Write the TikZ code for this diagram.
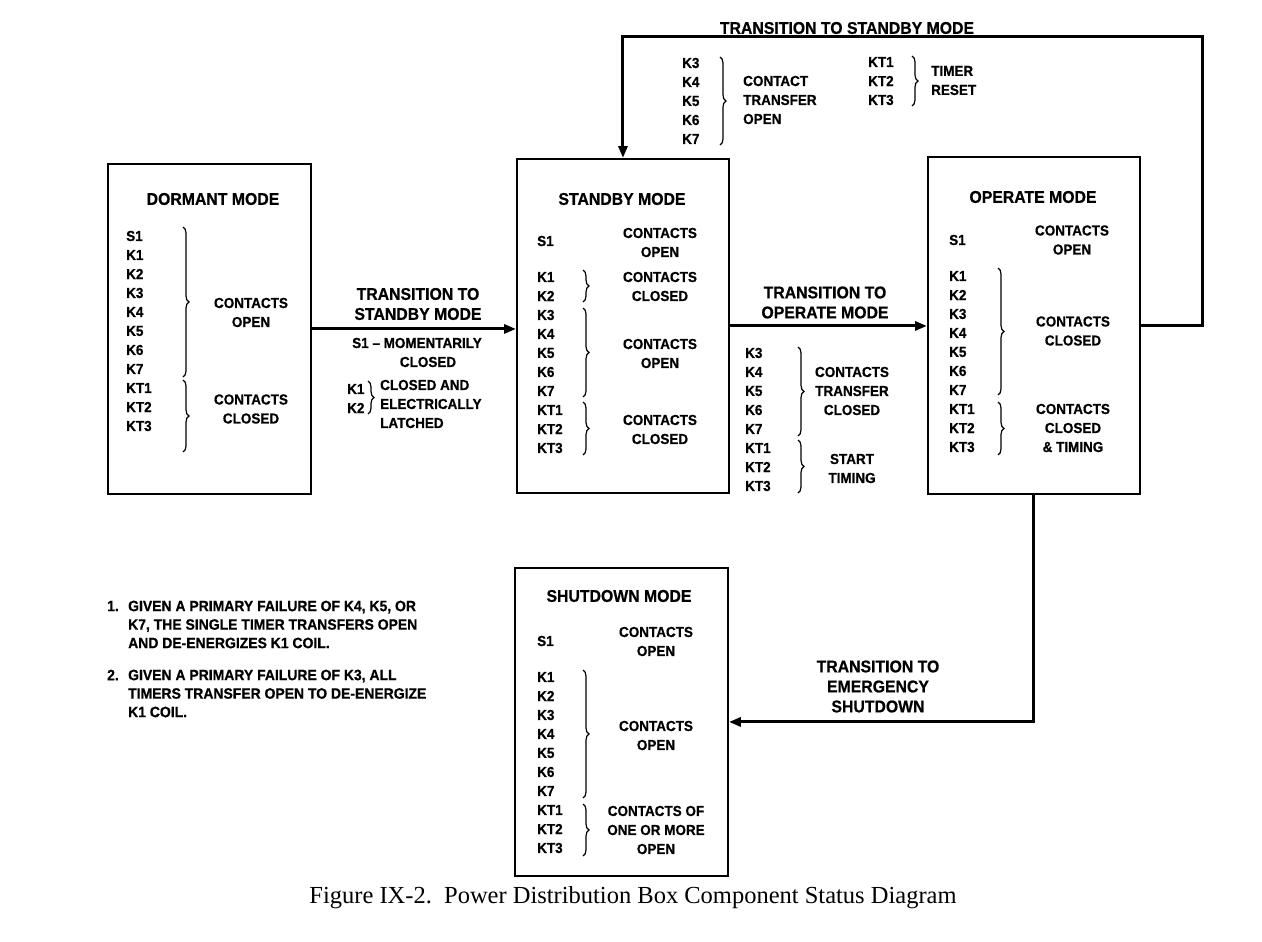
\documentclass[tikz,border=0pt]{standalone}
\usepackage{fontspec}
\setmainfont{Liberation Sans}[FakeStretch=0.93,BoldFeatures={FakeBold=0.6}]
\newfontfamily\capfont{Liberation Serif}
\usetikzlibrary{arrows.meta}
\usetikzlibrary{decorations.pathreplacing}
\usetikzlibrary{calc}

\begin{document}
\begin{tikzpicture}[x=1pt,y=-1pt,
    modebox/.style={draw,line width=1.9pt,anchor=north west,inner sep=0pt},
    ttl/.style={font=\bfseries\fontsize{17}{20}\selectfont,align=center,inner sep=0pt},
    txt/.style={font=\bfseries\fontsize{14.5}{19}\selectfont,align=center,inner sep=0pt},
    item/.style={font=\bfseries\fontsize{14.5}{19}\selectfont,anchor=west,inner sep=0pt},
    note/.style={font=\bfseries\fontsize{15}{18.5}\selectfont,align=left,anchor=west,inner sep=0pt},
    grp/.style={decorate,decoration={brace,amplitude=6pt},line width=1.2pt},
    arr/.style={line width=3pt,-{Triangle[length=12pt,width=9pt]}}]

    \fill[white] (0,0) rectangle (1262,942);
    \useasboundingbox (0,0) rectangle (1262,942);

    % the four modes
    \node[modebox,minimum width=203pt,minimum height=330pt] (dorm) at (107,163) {};
    \node[modebox,minimum width=212pt,minimum height=334pt] (stby) at (516,158) {};
    \node[modebox,minimum width=212pt,minimum height=337pt] (oper) at (927,156) {};
    \node[modebox,minimum width=213pt,minimum height=308pt] (shut) at (514,567) {};

    % dormant mode
    \node[ttl] (dormttl) at (213,199) {DORMANT MODE};
    \foreach \k [count=\i from 0] in {S1,K1,K2,K3,K4,K5,K6,K7,KT1,KT2,KT3}
        \node[item] (dl\i) at (126,236+19*\i) {\k};
    \draw[grp] (183,227) -- (183,377);
    \node[txt] (dormopen) at (251,312.5) {CONTACTS\\OPEN};
    \draw[grp] (183,380) -- (183,452);
    \node[txt] (dormclosed) at (251,409) {CONTACTS\\CLOSED};

    % standby mode
    \node[ttl] (stbyttl) at (622,199) {STANDBY MODE};
    \node[item] (ss1) at (537,241) {S1};
    \node[txt] (stbys1) at (660,242.5) {CONTACTS\\OPEN};
    \foreach \k [count=\i from 0] in {K1,K2,K3,K4,K5,K6,K7,KT1,KT2,KT3}
        \node[item] (sl\i) at (537,277+19*\i) {\k};
    \draw[grp] (583,270) -- (583,302);
    \node[txt] (stbyk12) at (660,286.5) {CONTACTS\\CLOSED};
    \draw[grp] (583,308) -- (583,397);
    \node[txt] (stbyk37) at (660,353.5) {CONTACTS\\OPEN};
    \draw[grp] (583,402) -- (583,455);
    \node[txt] (stbykt) at (660,429.5) {CONTACTS\\CLOSED};

    % operate mode
    \node[ttl] (operttl) at (1033,197) {OPERATE MODE};
    \node[item] (os1) at (949,240) {S1};
    \node[txt] (opers1) at (1072,240) {CONTACTS\\OPEN};
    \foreach \k [count=\i from 0] in {K1,K2,K3,K4,K5,K6,K7,KT1,KT2,KT3}
        \node[item] (ol\i) at (949,276+19*\i) {\k};
    \draw[grp] (998,268) -- (998,395);
    \node[txt] (operk) at (1073,331) {CONTACTS\\CLOSED};
    \draw[grp] (998,402) -- (998,455);
    \node[txt] (operkt) at (1073,428) {CONTACTS\\CLOSED\\\& TIMING};

    % shutdown mode
    \node[ttl] (shutttl) at (619,596) {SHUTDOWN MODE};
    \node[item] (hs1) at (537,641) {S1};
    \node[txt] (shuts1) at (656,641.5) {CONTACTS\\OPEN};
    \foreach \k [count=\i from 0] in {K1,K2,K3,K4,K5,K6,K7,KT1,KT2,KT3}
        \node[item] (hl\i) at (537,677+19*\i) {\k};
    \draw[grp] (583,670) -- (583,798);
    \node[txt] (shutk) at (656,735.5) {CONTACTS\\OPEN};
    \draw[grp] (583,804) -- (583,856);
    \node[txt] (shutkt) at (656,830) {CONTACTS OF\\ONE OR MORE\\OPEN};

    % transitions
    \draw[arr] (dorm.east) -- (dorm.east -| stby.west);
    \node[ttl] (tr1) at (418,304) {TRANSITION TO\\STANDBY MODE};
    \node[txt] (tr1a) at (417,343) {S1 -- MOMENTARILY};
    \node[txt] (tr1b) at (428,362) {CLOSED};
    \node[item] (tr1k1) at (347,389) {K1};
    \node[item] (tr1k2) at (347,408) {K2};
    \draw[grp] (368,381) -- (368,414);
    \node[txt,align=left,anchor=west] (tr1c) at (380,404) {CLOSED AND\\ELECTRICALLY\\LATCHED};

    \draw[arr] (stby.east) -- (stby.east -| oper.west);
    \node[ttl] (tr2) at (825,302.5) {TRANSITION TO\\OPERATE MODE};
    \foreach \k [count=\i from 0] in {K3,K4,K5,K6,K7,KT1,KT2,KT3}
        \node[item] (tl\i) at (745,353+19*\i) {\k};
    \draw[grp] (798,347) -- (798,436);
    \node[txt] (tr2a) at (852,391) {CONTACTS\\TRANSFER\\CLOSED};
    \draw[grp] (798,440) -- (798,493);
    \node[txt] (tr2b) at (852,468.5) {START\\TIMING};

    \coordinate (loopr) at (1202,37);
    \draw[arr] (oper.east) -| (loopr) -| (stby.north);
    \node[ttl] (tr3) at (847,28) {TRANSITION TO STANDBY MODE};
    \foreach \k [count=\i from 0] in {K3,K4,K5,K6,K7}
        \node[item] (ul\i) at (682,63+19*\i) {\k};
    \draw[grp] (720,57) -- (720,145);
    \node[txt,align=left,anchor=west] (tr3a) at (743,100) {CONTACT\\TRANSFER\\OPEN};
    \foreach \k [count=\i from 0] in {KT1,KT2,KT3}
        \node[item] (ut\i) at (868,62+19*\i) {\k};
    \draw[grp] (912,56) -- (912,106);
    \node[txt,align=left,anchor=west] (tr3b) at (931,80.5) {TIMER\\RESET};

    \draw[arr] (oper.south) |- (shut.east);
    \node[ttl] (tr4) at (878,686.5) {TRANSITION TO\\EMERGENCY\\SHUTDOWN};

    % notes
    \node[note] (n1num) at (107,606) {1.};
    \node[note] (n1) at (128,624.5) {GIVEN A PRIMARY FAILURE OF K4, K5, OR\\K7, THE SINGLE TIMER TRANSFERS OPEN\\AND DE-ENERGIZES K1 COIL.};
    \node[note] (n2num) at (107,675) {2.};
    \node[note] (n2) at (128,693.5) {GIVEN A PRIMARY FAILURE OF K3, ALL\\TIMERS TRANSFER OPEN TO DE-ENERGIZE\\K1 COIL.};

    % caption
    \node[font=\capfont\fontsize{24.5}{28}\selectfont,inner sep=0pt] (capt) at (633,898) {Figure IX-2.\ \ Power Distribution Box Component Status Diagram};
\end{tikzpicture}
\end{document}
